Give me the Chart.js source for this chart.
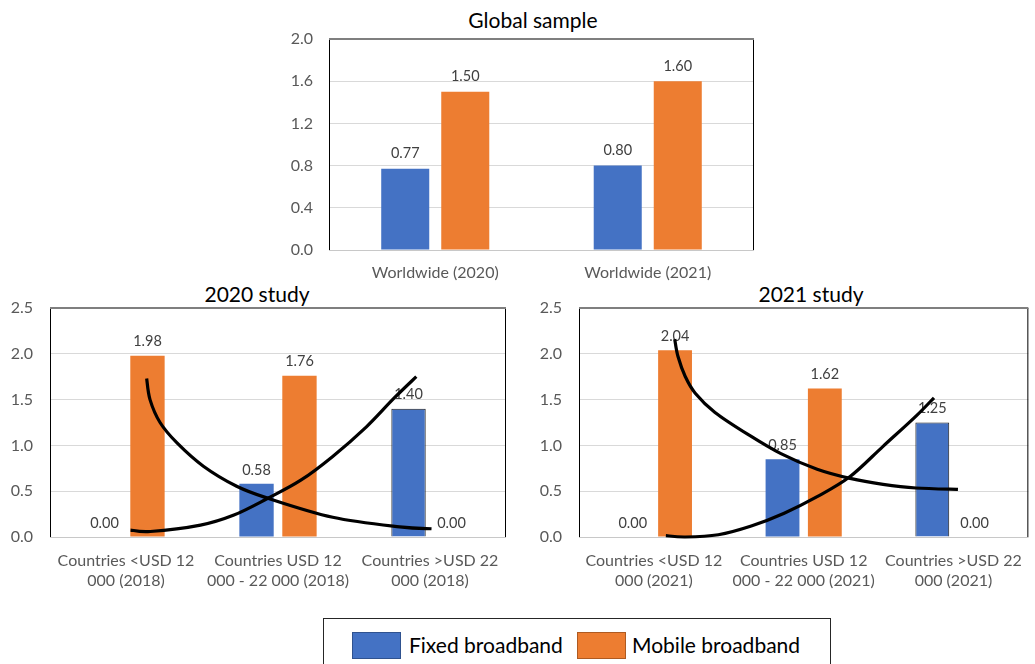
<!DOCTYPE html>
<html lang="en">
<head>
    <meta charset="UTF-8">
    <title>Fixed and mobile broadband</title>
    <script src="https://cdn.jsdelivr.net/npm/chart.js"></script>
    <style>
        body { margin: 0; background: #fff; font-family: Lato, sans-serif; }
        .wrap { position: relative; width: 1035px; height: 664px; overflow: hidden; }
        .box { position: absolute; }
        .title { position: absolute; font-size: 21px; color: #000; transform: translate(-50%, -50%); white-space: nowrap; }
        .legend { position: absolute; left: 323px; top: 618px; width: 506px; height: 60px; border: 1px solid #262626; }
        .swatch { position: absolute; top: 13px; width: 47px; height: 25px; }
        .legend span.txt { position: absolute; top: 13px; font-size: 21px; line-height: 26px; color: #000; }
    </style>
</head>
<body>
<div class="wrap">
    <div class="title" style="left:533px; top:19px;">Global sample</div>
    <div class="title" style="left:257px; top:293px;">2020 study</div>
    <div class="title" style="left:811px; top:293px;">2021 study</div>

    <div class="box" style="left:270px; top:0; width:500px; height:290px;"><canvas id="globalChart"></canvas></div>
    <div class="box" style="left:0; top:280px; width:520px; height:320px;"><canvas id="study2020Chart"></canvas></div>
    <div class="box" style="left:520px; top:280px; width:515px; height:320px;"><canvas id="study2021Chart"></canvas></div>

    <!-- Legend -->
    <div class="legend">
        <div class="swatch" style="left:28px; background:#4472C4; border:1px solid #2F528F;"></div>
        <span class="txt" style="left:85px;">Fixed broadband</span>
        <div class="swatch" style="left:253px; background:#ED7D31; border:1px solid #AE5A21;"></div>
        <span class="txt" style="left:308px;">Mobile broadband</span>
    </div>
</div>

<script>
    // Global sample
    const globalCategories = ['Worldwide (2020)', 'Worldwide (2021)'];
    const globalFixed = [0.77, 0.80];
    const globalMobile = [1.50, 1.60];

    // 2020 study
    const study2020Categories = [
        ['Countries <USD 12', '000 (2018)'],
        ['Countries USD 12', '000 - 22 000 (2018)'],
        ['Countries >USD 22', '000 (2018)']
    ];
    const study2020Fixed = [0.00, 0.58, 1.40];
    const study2020Mobile = [1.98, 1.76, 0.00];

    // 2021 study
    const study2021Categories = [
        ['Countries <USD 12', '000 (2021)'],
        ['Countries USD 12', '000 - 22 000 (2021)'],
        ['Countries >USD 22', '000 (2021)']
    ];
    const study2021Fixed = [0.00, 0.85, 1.25];
    const study2021Mobile = [2.04, 1.62, 0.00];

    // hand drawn trend curves (x in category units, 0 = first category)
    const trend2020FallX = [0.136, 0.158, 0.224, 0.334, 0.509, 0.728, 0.926, 1.36, 1.80, 2.01];
    const trend2020FallY = [1.73, 1.50, 1.25, 1.03, 0.773, 0.554, 0.427, 0.215, 0.11, 0.09];
    const trend2020RiseX = [0.03, 0.16, 0.49, 0.71, 0.93, 1.15, 1.36, 1.58, 1.76, 1.91];
    const trend2020RiseY = [0.076, 0.06, 0.13, 0.24, 0.42, 0.62, 0.88, 1.20, 1.51, 1.75];
    const trend2021FallX = [0.139, 0.161, 0.21, 0.276, 0.408, 0.628, 0.848, 1.09, 1.31, 1.53, 1.75, 2.03];
    const trend2021FallY = [2.16, 1.97, 1.75, 1.57, 1.36, 1.12, 0.91, 0.74, 0.64, 0.575, 0.535, 0.52];
    const trend2021RiseX = [0.08, 0.21, 0.43, 0.65, 0.87, 1.09, 1.31, 1.53, 1.75, 1.87];
    const trend2021RiseY = [0.015, 0.0, 0.025, 0.12, 0.26, 0.44, 0.66, 0.99, 1.32, 1.52];

    const BLUE = '#4472C4';
    const ORANGE = '#ED7D31';

    // value labels above each bar
    const barLabels = {
        id: 'barLabels',
        afterDatasetDraw(chart, args, opts) {
            const ctx = chart.ctx;
            ctx.save();
            ctx.font = '14.5px Lato, sans-serif';
            ctx.fillStyle = '#404040';
            ctx.textAlign = 'center';
            ctx.textBaseline = 'middle';
            args.meta.data.forEach((bar, i) => {
                const v = chart.data.datasets[args.index].data[i];
                ctx.fillText(v.toFixed(2), bar.x, bar.y - opts.gap);
            });
            ctx.restore();
        }
    };

    // frame round the plot area
    const plotFrame = {
        id: 'plotFrame',
        beforeDatasetsDraw(chart) {
            const a = chart.chartArea;
            const ctx = chart.ctx;
            ctx.save();
            ctx.strokeStyle = '#c8c8c8';
            ctx.lineWidth = 1;
            ctx.beginPath();
            ctx.moveTo(a.left, a.bottom + 0.5);
            ctx.lineTo(a.right, a.bottom + 0.5);
            ctx.stroke();
            ctx.strokeStyle = '#000';
            ctx.beginPath();
            ctx.moveTo(a.left + 0.5, a.bottom);
            ctx.lineTo(a.left + 0.5, a.top);
            ctx.moveTo(a.right - 0.5, a.top);
            ctx.lineTo(a.right - 0.5, a.bottom);
            ctx.stroke();
            ctx.strokeStyle = '#7f7f7f';
            ctx.lineWidth = 2;
            ctx.beginPath();
            ctx.moveTo(a.left, a.top);
            ctx.lineTo(a.right, a.top);
            ctx.stroke();
            ctx.restore();
        }
    };

    // black trend curves, mapped with the chart's own x (category index) and y scales
    const trendCurves = {
        id: 'trendCurves',
        afterDatasetsDraw(chart, args, opts) {
            const sx = chart.scales.x;
            const sy = chart.scales.y;
            const ctx = chart.ctx;
            ctx.save();
            ctx.strokeStyle = '#000';
            ctx.lineWidth = 3.2;
            ctx.lineJoin = 'round';
            (opts.curves || []).forEach(c => {
                const pts = c.x.map((u, i) => ({ x: sx.getPixelForValue(u), y: sy.getPixelForValue(c.y[i]) }));
                ctx.beginPath();
                ctx.moveTo(pts[0].x, pts[0].y);
                for (let i = 0; i < pts.length - 1; i++) {
                    const p0 = pts[i - 1] || pts[i];
                    const p1 = pts[i];
                    const p2 = pts[i + 1];
                    const p3 = pts[i + 2] || p2;
                    ctx.bezierCurveTo(
                        p1.x + (p2.x - p0.x) / 6, p1.y + (p2.y - p0.y) / 6,
                        p2.x - (p3.x - p1.x) / 6, p2.y - (p3.y - p1.y) / 6,
                        p2.x, p2.y
                    );
                }
                ctx.stroke();
            });
            ctx.restore();
        }
    };

    function makeChart(id, cfg) {
        return new Chart(document.getElementById(id), {
            type: 'bar',
            data: {
                labels: cfg.labels,
                datasets: [
                    {
                        label: 'Fixed broadband',
                        data: cfg.fixed,
                        backgroundColor: BLUE,
                        borderColor: cfg.fixedBorder || BLUE,
                        borderWidth: cfg.fixedBorderWidth || 0,
                        categoryPercentage: 0.565,
                        barPercentage: 0.8
                    },
                    {
                        label: 'Mobile broadband',
                        data: cfg.mobile,
                        backgroundColor: ORANGE,
                        borderWidth: 0,
                        categoryPercentage: 0.565,
                        barPercentage: 0.8
                    }
                ]
            },
            plugins: [barLabels, plotFrame, trendCurves],
            options: {
                responsive: true,
                maintainAspectRatio: false,
                animation: false,
                layout: { padding: { top: cfg.padTop, right: cfg.padRight, left: 0, bottom: 0 } },
                plugins: {
                    legend: { display: false },
                    tooltip: { enabled: false },
                    title: { display: false },
                    barLabels: { gap: cfg.labelGap },
                    trendCurves: { curves: cfg.curves || [] }
                },
                scales: {
                    x: {
                        grid: { display: false, drawTicks: false },
                        border: { display: false },
                        ticks: {
                            color: '#595959',
                            font: { family: 'Lato', size: 16, lineHeight: 1.3 },
                            padding: cfg.xPad,
                            maxRotation: 0,
                            autoSkip: false
                        },
                        afterFit: s => { s.height = cfg.xHeight; }
                    },
                    y: {
                        min: 0,
                        max: cfg.yMax,
                        ticks: {
                            stepSize: cfg.yStep,
                            color: '#595959',
                            font: { family: 'Lato', size: 16 },
                            padding: cfg.yPad,
                            callback: v => v.toFixed(1)
                        },
                        grid: { color: '#d9d9d9', drawTicks: false },
                        border: { display: false },
                        afterFit: s => { s.width = cfg.yWidth; }
                    }
                }
            }
        });
    }

    makeChart('globalChart', {
        labels: globalCategories,
        fixed: globalFixed,
        mobile: globalMobile,
        yMax: 2.0, yStep: 0.4,
        padTop: 39, padRight: 16,
        yWidth: 59, xHeight: 40,
        xPad: 12, yPad: 16,
        labelGap: 15
    });

    makeChart('study2020Chart', {
        labels: study2020Categories,
        fixed: study2020Fixed,
        mobile: study2020Mobile,
        fixedBorder: [BLUE, BLUE, '#1a1a1a'],
        fixedBorderWidth: [0, 0, 1],
        curves: [
            { x: trend2020FallX, y: trend2020FallY },
            { x: trend2020RiseX, y: trend2020RiseY }
        ],
        yMax: 2.5, yStep: 0.5,
        padTop: 28, padRight: 14,
        yWidth: 50, xHeight: 63,
        xPad: 13, yPad: 17,
        labelGap: 14
    });

    makeChart('study2021Chart', {
        labels: study2021Categories,
        fixed: study2021Fixed,
        mobile: study2021Mobile,
        fixedBorder: [BLUE, BLUE, '#1a1a1a'],
        fixedBorderWidth: [0, 0, 1],
        curves: [
            { x: trend2021FallX, y: trend2021FallY },
            { x: trend2021RiseX, y: trend2021RiseY }
        ],
        yMax: 2.5, yStep: 0.5,
        padTop: 28, padRight: 1,
        yWidth: 59, xHeight: 63,
        xPad: 13, yPad: 17,
        labelGap: 14
    });
</script>
</body>
</html>
